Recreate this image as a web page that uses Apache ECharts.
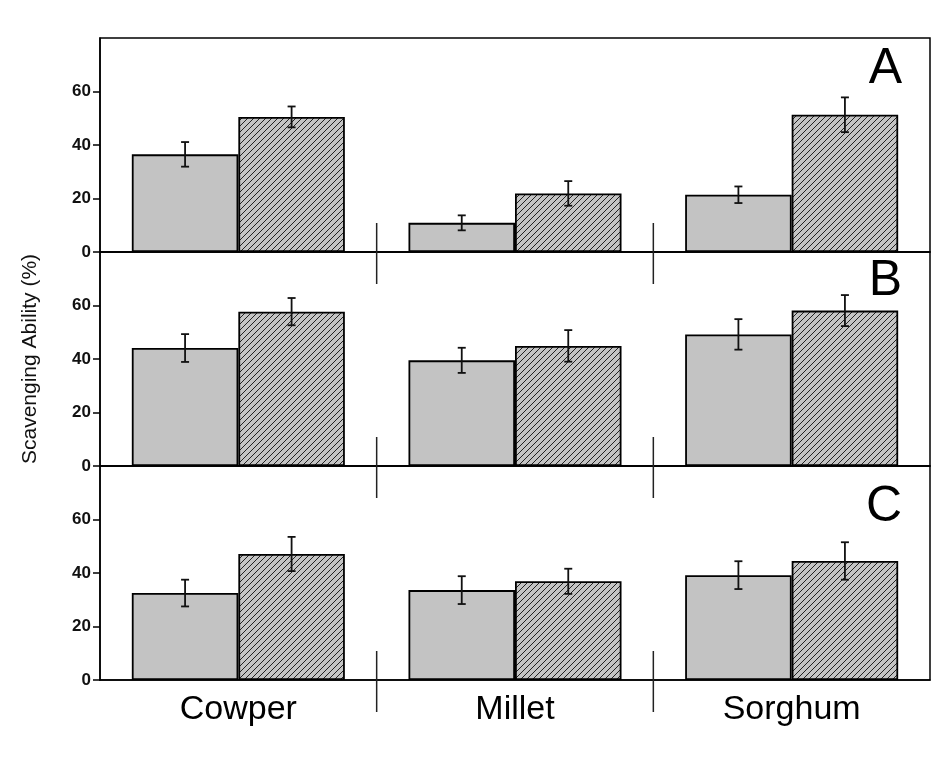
<!DOCTYPE html>
<html>
<head>
<meta charset="utf-8">
<script src="https://cdn.jsdelivr.net/npm/echarts@6/dist/echarts.min.js"></script>
<style>html,body{margin:0;padding:0;background:#fff}#chart{width:931px;height:761px}</style>
</head>
<body>
<div id="chart"></div>
<script>
// ---- data ----
const categories = ['Cowper', 'Millet', 'Sorghum'];
const panelLabels = ['A', 'B', 'C'];
const yTicks = [0, 20, 40, 60];
const yAxisTitle = 'Scavenging Ability (%)';

const greyA = [36.5, 10.9, 21.4];
const greyErrA = [4.6, 2.8, 3.1];
const hatchA = [50.5, 21.9, 51.3];
const hatchErrA = [3.9, 4.6, 6.5];

const greyB = [44.1, 39.5, 49.2];
const greyErrB = [5.2, 4.7, 5.7];
const hatchB = [57.7, 44.9, 58.1];
const hatchErrB = [5.1, 5.9, 5.8];

const greyC = [32.5, 33.6, 39.2];
const greyErrC = [5.0, 5.2, 5.2];
const hatchC = [47.1, 36.9, 44.5];
const hatchErrC = [6.4, 4.7, 7.0];

const panels = [
  {grey: greyA, greyErr: greyErrA, hatch: hatchA, hatchErr: hatchErrA},
  {grey: greyB, greyErr: greyErrB, hatch: hatchB, hatchErr: hatchErrB},
  {grey: greyC, greyErr: greyErrC, hatch: hatchC, hatchErr: hatchErrC}
];

// ---- styles ----
const FONT = 'Liberation Sans, Arial, sans-serif';
const BAR_FRAC = 0.385;
const greyColor = '#c3c3c3';
const letterOffsets = [1, -1, 11];

function makeHatch() {
  const s = 6;
  const c = document.createElement('canvas');
  c.width = s; c.height = s;
  const ctx = c.getContext('2d');
  ctx.fillStyle = '#c4c4c4';
  ctx.fillRect(0, 0, s, s);
  ctx.strokeStyle = '#222';
  ctx.lineWidth = 1;
  ctx.beginPath();
  ctx.moveTo(-1, s + 1); ctx.lineTo(s + 1, -1);
  ctx.moveTo(-1, 1); ctx.lineTo(1, -1);
  ctx.moveTo(s - 1, s + 1); ctx.lineTo(s + 1, s - 1);
  ctx.stroke();
  return c;
}
const hatchCanvas = makeHatch();

const gridTop = 38, gridH = 214;
const grids = [], xAxes = [], yAxes = [], series = [], titles = [];

panels.forEach((p, i) => {
  grids.push({left: 100, right: 1, top: gridTop + i * gridH, height: gridH,
    show: true, borderColor: '#000', borderWidth: 1.5, backgroundColor: 'transparent'});
  xAxes.push({
    type: 'category', gridIndex: i, data: categories,
    axisLine: {lineStyle: {color: '#000', width: 1.5}},
    axisTick: {show: false},
    axisLabel: {show: i === 2, fontSize: 34, color: '#000', fontFamily: FONT, margin: 13},
    splitLine: {show: false}
  });
  yAxes.push({
    type: 'value', gridIndex: i, min: 0, max: 80, interval: 20,
    name: i === 1 ? yAxisTitle : '',
    nameLocation: 'middle', nameGap: 59,
    nameTextStyle: {fontSize: 21, color: '#111', fontFamily: FONT},
    axisLine: {show: true, lineStyle: {color: '#000', width: 1.5}},
    axisTick: {show: true, customValues: yTicks, length: 7, lineStyle: {color: '#000', width: 1.5}},
    axisLabel: {customValues: yTicks, fontSize: 17, fontWeight: 'bold', color: '#111', fontFamily: FONT, margin: 9},
    splitLine: {show: false}
  });
  series.push({
    type: 'bar', xAxisIndex: i, yAxisIndex: i, data: p.grey,
    barWidth: (BAR_FRAC * 100) + '%', barGap: '0%',
    itemStyle: {color: greyColor, borderColor: '#000', borderWidth: 1.8}
  });
  series.push({
    type: 'bar', xAxisIndex: i, yAxisIndex: i, data: p.hatch,
    barWidth: (BAR_FRAC * 100) + '%', barGap: '0%',
    itemStyle: {color: {image: hatchCanvas, repeat: 'repeat'}, borderColor: '#000', borderWidth: 1.8}
  });
  const errData = [];
  categories.forEach((c, k) => {
    errData.push([k, p.grey[k], p.greyErr[k], -1]);
    errData.push([k, p.hatch[k], p.hatchErr[k], 1]);
  });
  series.push({
    type: 'custom', xAxisIndex: i, yAxisIndex: i, data: errData, z: 10,
    encode: {x: 0, y: 1},
    renderItem: function (params, api) {
      const k = api.value(0), v = api.value(1), e = api.value(2), side = api.value(3);
      const bw = api.size([1, 0])[0];
      const x = api.coord([k, v])[0] + side * bw * BAR_FRAC / 2;
      const yt = api.coord([k, v + e])[1];
      const yb = api.coord([k, v - e])[1];
      const cap = 4;
      const st = {stroke: '#111', lineWidth: 1.8};
      return {type: 'group', children: [
        {type: 'line', shape: {x1: x, y1: yt, x2: x, y2: yb}, style: st},
        {type: 'line', shape: {x1: x - cap, y1: yt, x2: x + cap, y2: yt}, style: st},
        {type: 'line', shape: {x1: x - cap, y1: yb, x2: x + cap, y2: yb}, style: st}
      ]};
    }
  });
  series.push({
    type: 'custom', xAxisIndex: i, yAxisIndex: i, data: [[1, 0], [2, 0]], z: 10,
    encode: {x: 0, y: 1},
    renderItem: function (params, api) {
      const c = api.coord([api.value(0), 0]);
      const bw = api.size([1, 0])[0];
      const x = c[0] - bw / 2;
      return {type: 'line', shape: {x1: x, y1: c[1] - 29, x2: x, y2: c[1] + 32},
        style: {stroke: '#222', lineWidth: 1.5}};
    }
  });
  titles.push({text: panelLabels[i], right: 24, top: gridTop + i * gridH + letterOffsets[i],
    textStyle: {fontSize: 50, fontWeight: 'normal', color: '#000', fontFamily: FONT}});
});

const chart = echarts.init(document.getElementById('chart'), null, {renderer: 'canvas'});
chart.setOption({
  backgroundColor: '#fff',
  animation: false,
  title: titles,
  grid: grids,
  xAxis: xAxes,
  yAxis: yAxes,
  series: series
});
</script>
</body>
</html>
